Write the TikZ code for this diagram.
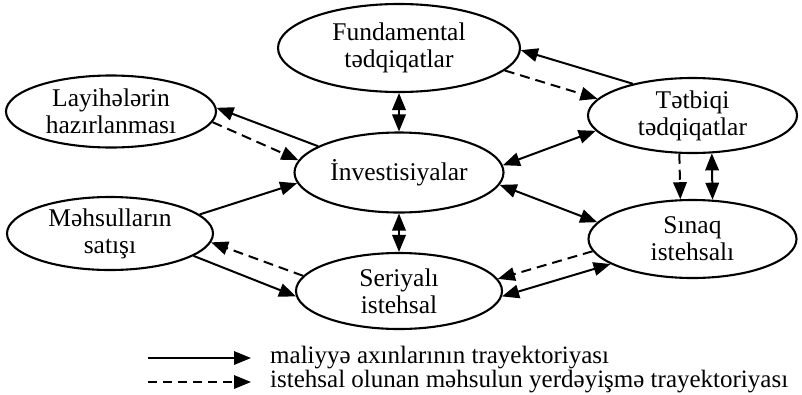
\documentclass[tikz,border=0pt]{standalone}
\usepackage{fontspec}
\setmainfont{Liberation Serif}
\usetikzlibrary{arrows.meta,shapes.geometric}
\begin{document}
\begin{tikzpicture}[x=1pt,y=-1pt,
  box/.style={draw,ellipse,line width=2.1pt,inner sep=0pt,align=center,
    font=\fontsize{25.5}{27}\selectfont},
  arr/.style={line width=2pt,-{Triangle[length=17pt,width=13.5pt]}},
  darr/.style={line width=2pt,{Triangle[length=17pt,width=13.5pt]}-{Triangle[length=17pt,width=13.5pt]}},
  dsh/.style={arr,dash pattern=on 10pt off 6pt},
  legtext/.style={anchor=base west,inner sep=0pt,font=\fontsize{25}{27}\selectfont}]
\useasboundingbox (0,0) rectangle (802,394);
% ellipses
\node[box,minimum width=242pt,minimum height=88pt] (fund) at (399,48) {Fundamental\\tədqiqatlar};
\node[box,minimum width=210pt,minimum height=72pt] (lay) at (111,111.5) {Layihələrin\\hazırlanması};
\node[box,minimum width=209pt,minimum height=80pt] (inv) at (399,172.5) {İnvestisiyalar};
\node[box,minimum width=206pt,minimum height=73pt] (meh) at (110,233.5) {Məhsulların\\satışı};
\node[box,minimum width=206pt,minimum height=76pt] (ser) at (399,291) {Seriyalı\\istehsal};
\node[box,minimum width=209pt,minimum height=75pt] (tet) at (692.5,115.5) {Tətbiqi\\tədqiqatlar};
\node[box,minimum width=208pt,minimum height=78pt] (sin) at (692.5,239) {Sınaq\\istehsalı};
% connectors
\draw[arr] (inv.162.4) -- (lay.2.7);
\draw[dsh] (lay.-6.7) -- (inv.173.5);
\draw[arr] (meh.12.7) -- (inv.186.1);
\draw[dsh] (ser.171.5) -- (meh.-5.5);
\draw[arr] (meh.-15.8) -- (ser.183.9);
\draw[darr] (fund.south) -- (inv.north);
\draw[darr] (inv.south) -- (ser.north);
\draw[arr] (tet.152.7) -- (fund.-1.9);
\draw[dsh] (fund.-12.8) -- (tet.170.2);
\draw[darr] (inv.4.9) -- (tet.189.7);
\draw[dsh] (tet.251.66) -- (sin.107.9);
\draw[darr] (tet.297.57) -- (sin.63.0);
\draw[darr] (inv.-7.3) -- (sin.170.2);
\draw[dsh] (sin.187.2) -- (ser.7.3);
\draw[darr] (ser.-3.3) -- (sin.197.1);
% legend
\coordinate (l1a) at (148,358);
\coordinate (l1b) at (251,358);
\coordinate (l2a) at (148,382);
\coordinate (l2b) at (251,382);
\draw[arr,line width=1.6pt] (l1a) -- (l1b);
\draw[dsh,line width=1.6pt,dash pattern=on 9pt off 6pt] (l2a) -- (l2b);
\node[legtext] (t1) at (270,363) {maliyyə axınlarının trayektoriyası};
\node[legtext] (t2) at (270,387) {istehsal olunan məhsulun yerdəyişmə trayektoriyası};
\end{tikzpicture}
\end{document}
